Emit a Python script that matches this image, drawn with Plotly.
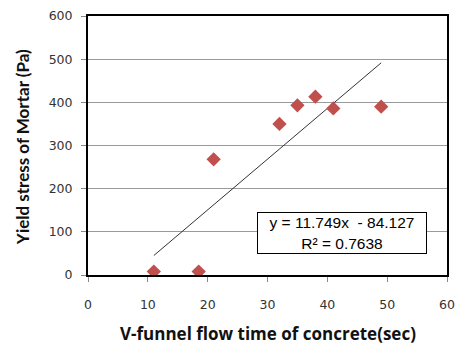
import plotly.graph_objects as go

# Data
flow_time = [11, 18.5, 21, 32, 35, 38, 41, 49]
yield_stress = [8, 8, 268, 350, 393, 413, 386, 390]
slope = 11.749
intercept = -84.127
r2 = 0.7638
x_ticks = [0, 10, 20, 30, 40, 50, 60]
y_ticks = [0, 100, 200, 300, 400, 500, 600]

trend_x = [min(flow_time), max(flow_time)]
trend_y = [slope * x + intercept for x in trend_x]

fig = go.Figure()
fig.add_trace(go.Scatter(x=trend_x, y=trend_y, mode="lines",
                         line=dict(color="#333333", width=1), showlegend=False))
fig.add_trace(go.Scatter(x=flow_time, y=yield_stress, mode="markers",
                         marker=dict(symbol="diamond", size=11, color="#C0504D",
                                     line=dict(width=0)), showlegend=False))

tickfont = dict(family="DejaVu Sans", size=12.5, color="#333333")
fig.update_xaxes(range=[0, 60], tickvals=x_ticks, showgrid=False, zeroline=False,
                 showline=True, linecolor="black", linewidth=2, mirror=True,
                 ticks="outside", ticklen=5, tickcolor="#888888", tickfont=tickfont,
                 ticklabelstandoff=12)
fig.update_yaxes(range=[0, 600], tickvals=y_ticks, showgrid=True, gridcolor="#9a9a9a",
                 gridwidth=1, zeroline=False,
                 showline=True, linecolor="black", linewidth=2, mirror=True,
                 ticks="outside", ticklen=5, tickcolor="#888888", tickfont=tickfont,
                 ticklabelstandoff=6)

fig.add_annotation(x=42.4, y=97, xref="x", yref="y",
                   text=f"y = {slope}x  - {abs(intercept)}<br>R² = {r2}",
                   showarrow=False, align="center",
                   font=dict(family="Liberation Sans", size=15.5, color="#000000"),
                   bordercolor="black", borderwidth=1, borderpad=2, bgcolor="white",
                   width=164, height=36)

pw, ph = 463 - 88 - 15, 349 - 8 - 74
fig.add_annotation(x=(269 - 88) / pw, y=(349 - 74 - 335) / ph, xref="paper", yref="paper",
                   text="<b>V-funnel flow time of concrete(sec)</b>", showarrow=False,
                   xanchor="center", yanchor="middle",
                   font=dict(family="Open Sans", size=17, color="#111111"))
fig.add_annotation(x=(23 - 88) / pw, y=(275 - 143) / ph, xref="paper", yref="paper",
                   text="<b>Yield stress of Mortar (Pa)</b>", textangle=-90, showarrow=False,
                   xanchor="center", yanchor="middle",
                   font=dict(family="Lato", size=17, color="#111111"))

fig.update_layout(width=463, height=349, margin=dict(l=88, r=15, t=8, b=74),
                  plot_bgcolor="white", paper_bgcolor="white")

fig.write_html("out.html")
